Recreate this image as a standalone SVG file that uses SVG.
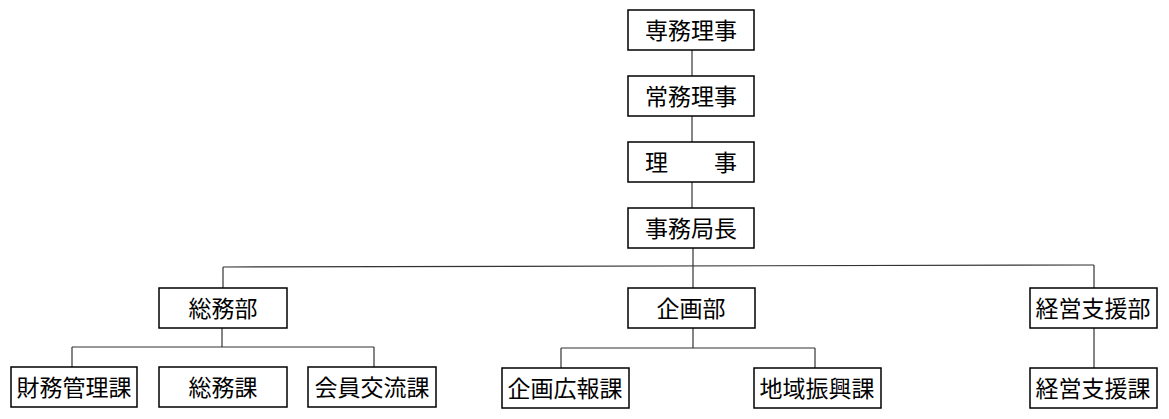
<svg xmlns="http://www.w3.org/2000/svg" width="1169" height="419" viewBox="0 0 1169 419">
<style>
.box rect{fill:#fff;stroke:#000;stroke-width:1.5}
.box text{font-family:"Liberation Serif","Noto Sans CJK JP",serif;font-size:23px;fill:#000;text-anchor:middle}
.conn line{stroke:#333;stroke-width:1.2}
</style>
<rect width="1169" height="419" fill="#fff"/>
<g id="connectors" class="conn">
<line x1="692" y1="50" x2="692" y2="76"/>
<line x1="692" y1="116" x2="692" y2="142"/>
<line x1="692" y1="182" x2="692" y2="208"/>
<line x1="693" y1="248" x2="693" y2="288"/>
<line x1="223" y1="267" x2="1094" y2="265"/>
<line x1="223" y1="267" x2="223" y2="288"/>
<line x1="1094" y1="265" x2="1094" y2="288"/>
<line x1="222" y1="328" x2="222" y2="347"/>
<line x1="72" y1="347" x2="374" y2="347"/>
<line x1="72" y1="347" x2="72" y2="368"/>
<line x1="374" y1="347" x2="374" y2="368"/>
<line x1="693" y1="328" x2="693" y2="348"/>
<line x1="561" y1="348" x2="815" y2="348"/>
<line x1="561" y1="348" x2="561" y2="368"/>
<line x1="815" y1="348" x2="815" y2="368"/>
<line x1="1094" y1="328" x2="1094" y2="368"/>
</g>
<g id="n1" class="box"><rect x="628" y="10" width="126" height="40"/><text x="691" y="38.5">専務理事</text></g>
<g id="n2" class="box"><rect x="628" y="76" width="126" height="40"/><text x="691" y="104.5">常務理事</text></g>
<g id="n3" class="box"><rect x="628" y="142" width="126" height="40"/><text x="691" y="170.5">理　　事</text></g>
<g id="n4" class="box"><rect x="628" y="208" width="126" height="40"/><text x="691" y="236.5">事務局長</text></g>
<g id="n5" class="box"><rect x="159" y="288" width="128" height="40"/><text x="223" y="316.5">総務部</text></g>
<g id="n6" class="box"><rect x="628" y="288" width="127" height="40"/><text x="691" y="316.5">企画部</text></g>
<g id="n7" class="box"><rect x="1030" y="288" width="127" height="40"/><text x="1093" y="316.5">経営支援部</text></g>
<g id="n8" class="box"><rect x="11" y="367" width="126" height="40"/><text x="74" y="395.5">財務管理課</text></g>
<g id="n9" class="box"><rect x="159" y="367" width="128" height="40"/><text x="223" y="395.5">総務課</text></g>
<g id="n10" class="box"><rect x="308" y="367" width="128" height="40"/><text x="372" y="395.5">会員交流課</text></g>
<g id="n11" class="box"><rect x="502" y="368" width="127" height="40"/><text x="565" y="396.5">企画広報課</text></g>
<g id="n12" class="box"><rect x="754" y="368" width="127" height="40"/><text x="817" y="396.5">地域振興課</text></g>
<g id="n13" class="box"><rect x="1030" y="368" width="127" height="40"/><text x="1093" y="396.5">経営支援課</text></g>
</svg>
